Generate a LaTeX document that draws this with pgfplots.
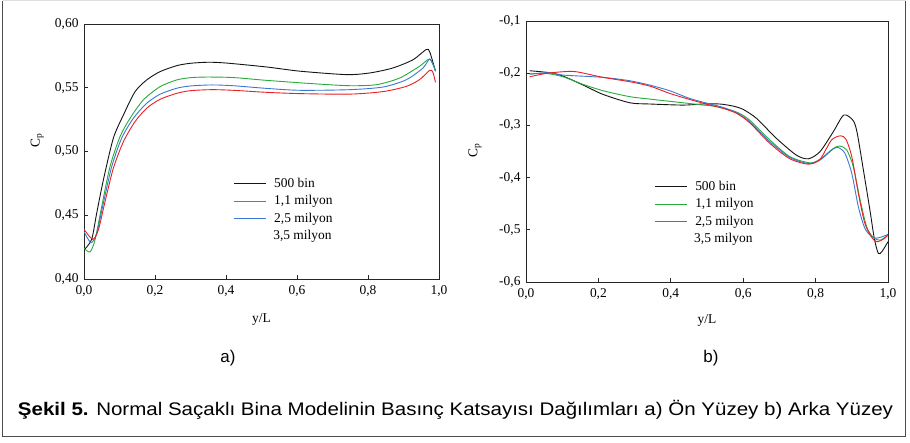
\documentclass[border=0pt]{standalone}
\usepackage{fontspec}
\setmainfont{Liberation Serif}
\newfontfamily\arial{Liberation Sans}
\usepackage{graphicx}
\usepackage{pgfplots}
\pgfplotsset{compat=1.18}

\definecolor{cblack}{RGB}{20,20,20}
\definecolor{cgreen}{RGB}{40,170,60}
\definecolor{cblue}{RGB}{60,120,210}
\definecolor{cred}{RGB}{235,30,35}

\pgfplotsset{
  cpaxis/.style={
    scale only axis,
    anchor=south west,
    xmin=0, xmax=1,
    xtick={0,0.2,...,1.0},
    xtick pos=left, ytick pos=left,
    tick align=inside,
    major tick length=4bp,
    axis line style={line width=0.8bp, black!85},
    tick style={line width=0.7bp, black!85},
    font=\fontsize{13.5}{16}\selectfont,
    ticklabel style={font=\fontsize{13.5}{16}\selectfont},
    /pgf/number format/assume math mode=true,
    /pgf/number format/use comma,
    /pgf/number format/fixed,
    /pgf/number format/fixed zerofill,
    xticklabel style={/pgf/number format/precision=1, yshift=-3bp},
    yticklabel style={xshift=-2bp},
    xlabel={y/L},
    ylabel={C\textsubscript{p}},
    legend cell align=left,
    legend style={draw=none, fill=none, inner sep=0pt, anchor=north west,
      font=\fontsize{13.5}{16}\selectfont,
      nodes={inner sep=0pt, text height=10bp, text depth=3bp},
      row sep=4.5bp},
    legend image code/.code={\draw[#1] (0bp,0bp) -- (32bp,0bp); \path (40bp,0bp);},
    every axis plot/.append style={line width=0.9bp, smooth, tension=0.45, no marks},
  },
}
% the 3,5 milyon entry of the legend has its text only, no line
\tikzset{lastentry/.style={anchor=west, inner sep=0pt, text height=10bp, text depth=3bp,
    font=\fontsize{13.5}{16}\selectfont}}

\begin{document}
\begin{tikzpicture}
\useasboundingbox (0,0) rectangle (910bp,443bp);
\fill[white] (0,0) rectangle (910bp,443bp);
\draw[gray!25, line width=1bp] (2.5bp,442bp) -- (905.5bp,442bp);
\draw[black!70, line width=1.6bp] (2.5bp,442bp) -- (2.5bp,6.5bp) -- (905.5bp,6.5bp) -- (905.5bp,442bp);

% a) front face
\begin{axis}[cpaxis,
  at={(84bp,164bp)}, width=355bp, height=255bp,
  ymin=0.40, ymax=0.60, ytick={0.40,0.45,...,0.61},
  yticklabel style={/pgf/number format/precision=2},
  xlabel style={at={(axis description cs:0.5,-0.16)}, anchor=center},
  ylabel style={at={(axis description cs:-0.132,0.545)}, anchor=center},
  legend style={at={(axis description cs:0.42,0.40)}},
]
\addplot[cblack] coordinates {
(0.000,0.4227) (0.0216,0.4311) (0.0357,0.4515) (0.0545,0.4776) (0.0826,0.5104) (0.111,0.5286)
(0.1437,0.5469) (0.1765,0.5561) (0.214,0.5626) (0.261,0.5673) (0.300,0.5692) (0.350,0.5700)
(0.400,0.5694) (0.514,0.5663) (0.608,0.563) (0.739,0.5603) (0.805,0.5616) (0.870,0.5655)
(0.927,0.572) (0.964,0.580) (0.974,0.578) (0.990,0.563)};
\addlegendentry{500 bin}
\addplot[cgreen] coordinates {
(0.000,0.4241) (0.0169,0.4212) (0.031,0.4306) (0.0498,0.4567) (0.0732,0.4881) (0.1014,0.5116)
(0.1296,0.526) (0.167,0.5404) (0.214,0.5508) (0.261,0.5561) (0.300,0.5579) (0.345,0.5584)
(0.420,0.558) (0.514,0.5558) (0.655,0.553) (0.749,0.5516) (0.824,0.5524) (0.889,0.5576)
(0.945,0.5668) (0.974,0.5725) (0.990,0.563)};
\addlegendentry{1,1 milyon}
\addplot[cblue] coordinates {
(0.000,0.4371) (0.0197,0.4285) (0.0357,0.4358) (0.0545,0.4594) (0.078,0.4881) (0.106,0.5104)
(0.139,0.526) (0.1765,0.5378) (0.214,0.5449) (0.261,0.5496) (0.300,0.5514) (0.360,0.5522)
(0.420,0.5516) (0.514,0.5495) (0.608,0.548) (0.749,0.5485) (0.843,0.5506) (0.908,0.5563)
(0.955,0.5655) (0.974,0.5725) (0.990,0.5637)};
\addlegendentry{2,5 milyon}
\addplot[cred, forget plot] coordinates {
(0.000,0.439) (0.0245,0.4311) (0.0404,0.4384) (0.0592,0.4606) (0.0826,0.4868) (0.111,0.5077)
(0.1437,0.5234) (0.1765,0.5339) (0.214,0.5409) (0.261,0.5456) (0.300,0.5477) (0.360,0.5485)
(0.420,0.548) (0.514,0.5464) (0.608,0.5454) (0.749,0.545) (0.843,0.547) (0.908,0.5511)
(0.945,0.5563) (0.974,0.5637) (0.983,0.562) (0.990,0.5542)};
\node[lastentry] at (axis description cs:0.5327,0.1686) {3,5 milyon};
\end{axis}

% b) rear face
\begin{axis}[cpaxis,
  at={(526bp,161bp)}, width=362bp, height=261bp,
  ymin=-0.6, ymax=-0.1, ytick={-0.6,-0.5,...,-0.05},
  yticklabel style={/pgf/number format/precision=1},
  xlabel style={at={(axis description cs:0.5,-0.147)}, anchor=center},
  ylabel style={at={(axis description cs:-0.141,0.506)}, anchor=center},
  legend style={at={(axis description cs:0.354,0.391)}},
]
\addplot[cblack] coordinates {
(0.010,-0.1953) (0.065,-0.199) (0.102,-0.2055) (0.158,-0.2228) (0.213,-0.2407) (0.287,-0.2567)
(0.342,-0.259) (0.434,-0.2611) (0.489,-0.259) (0.535,-0.259) (0.572,-0.263) (0.600,-0.2694)
(0.637,-0.2867) (0.692,-0.325) (0.747,-0.357) (0.780,-0.364) (0.812,-0.3504) (0.849,-0.312)
(0.878,-0.280) (0.904,-0.291) (0.915,-0.315) (0.932,-0.3854) (0.950,-0.462) (0.962,-0.516)
(0.973,-0.545) (0.983,-0.542) (1.000,-0.5228)};
\addlegendentry{500 bin}
\addplot[cgreen] coordinates {
(0.010,-0.2017) (0.056,-0.2004) (0.102,-0.2068) (0.158,-0.2215) (0.213,-0.2336) (0.287,-0.245)
(0.342,-0.2496) (0.434,-0.2567) (0.489,-0.261) (0.526,-0.264) (0.582,-0.2746) (0.618,-0.290)
(0.674,-0.328) (0.729,-0.360) (0.784,-0.3717) (0.812,-0.365) (0.849,-0.344) (0.867,-0.3395)
(0.886,-0.347) (0.904,-0.379) (0.923,-0.443) (0.941,-0.494) (0.959,-0.5145) (0.978,-0.520)
(1.000,-0.510)};
\addlegendentry{1,1 milyon}
\addplot[cblue] coordinates {
(0.010,-0.2017) (0.065,-0.199) (0.102,-0.2036) (0.213,-0.208) (0.287,-0.2145) (0.342,-0.2228)
(0.397,-0.2336) (0.452,-0.2483) (0.508,-0.259) (0.545,-0.2656) (0.582,-0.2758) (0.618,-0.293)
(0.674,-0.3315) (0.729,-0.3615) (0.780,-0.373) (0.812,-0.3665) (0.849,-0.345) (0.863,-0.3427)
(0.881,-0.3535) (0.900,-0.392) (0.918,-0.4557) (0.936,-0.497) (0.955,-0.513) (0.969,-0.516)
(0.987,-0.5125) (1.000,-0.5088)};
\addlegendentry{2,5 milyon}
\addplot[cred, forget plot] coordinates {
(0.010,-0.2068) (0.056,-0.2004) (0.102,-0.1972) (0.139,-0.1972) (0.213,-0.208) (0.287,-0.2164)
(0.342,-0.2247) (0.397,-0.2387) (0.452,-0.2503) (0.508,-0.261) (0.545,-0.2675) (0.582,-0.277)
(0.618,-0.295) (0.674,-0.3347) (0.729,-0.364) (0.780,-0.3743) (0.812,-0.365) (0.844,-0.328)
(0.869,-0.320) (0.884,-0.3267) (0.900,-0.360) (0.918,-0.430) (0.936,-0.4876) (0.955,-0.5145)
(0.969,-0.5228) (0.987,-0.518) (1.000,-0.510)};
\node[lastentry] at (axis description cs:0.4641,0.1648) {3,5 milyon};
\end{axis}

\node[font=\arial\fontsize{17}{20}\selectfont] at (228bp,85bp) {a)};
\node[font=\arial\fontsize{17}{20}\selectfont] at (711bp,85bp) {b)};
\node[anchor=base, inner sep=0pt, font=\arial\fontsize{18.3}{22}\selectfont] at (455.5bp,28bp)
  {\resizebox{875bp}{\height}{\textbf{Şekil 5.} Normal Saçaklı Bina Modelinin Basınç Katsayısı Dağılımları a) Ön Yüzey b) Arka Yüzey}};
\end{tikzpicture}
\end{document}
